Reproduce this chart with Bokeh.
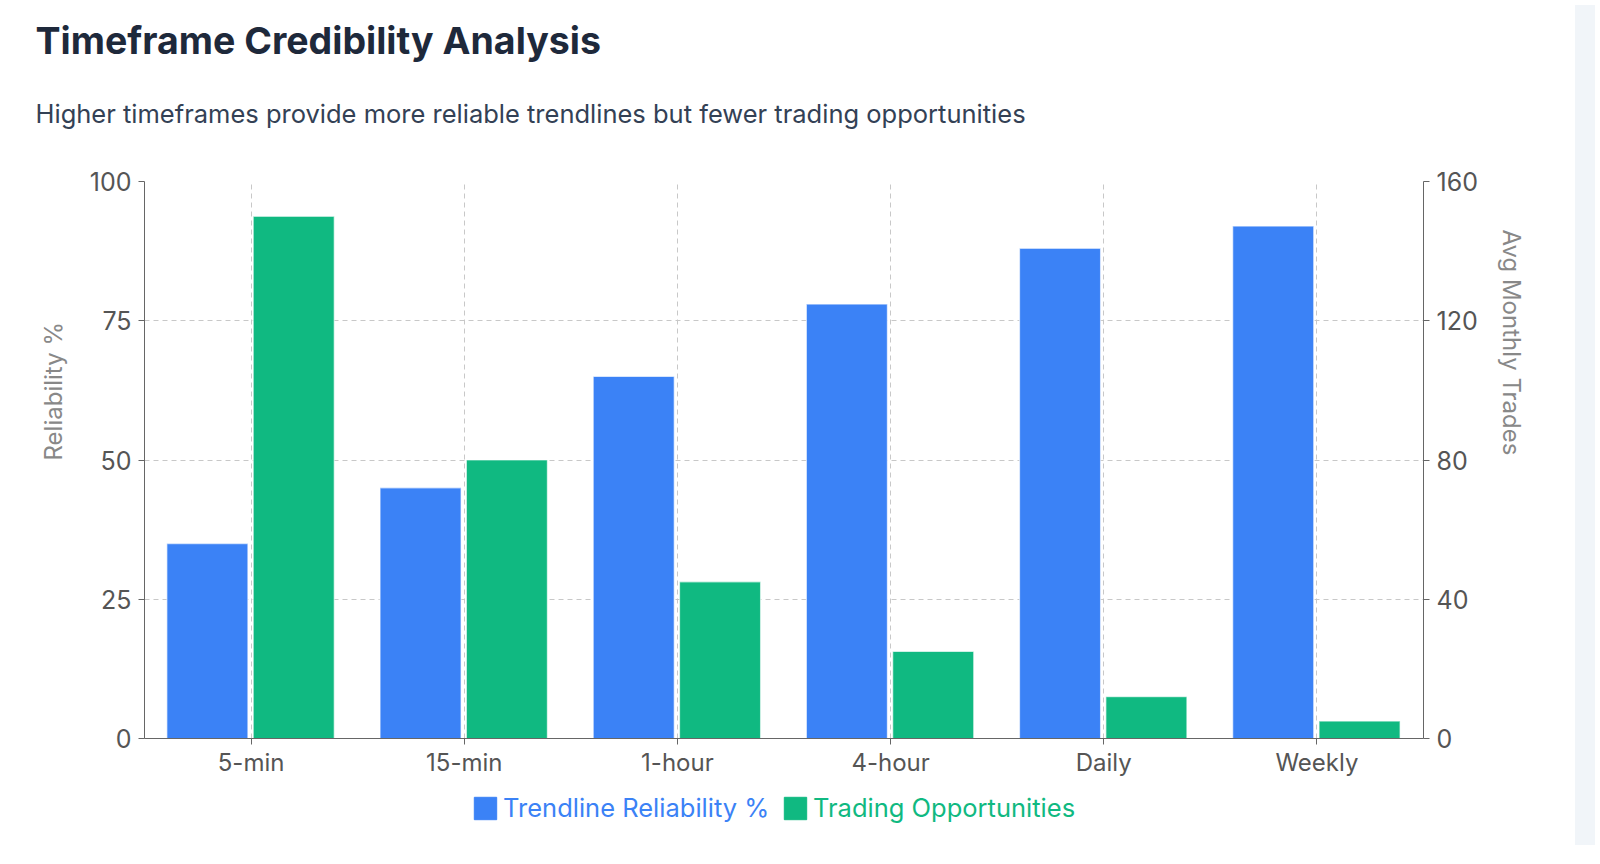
from bokeh.plotting import figure
from bokeh.models import (ColumnDataSource, Range1d, LinearAxis, FixedTicker, Title,
                          Legend, LegendItem, Div, FactorRange)
from bokeh.transform import dodge
from bokeh.layouts import row, column
from bokeh.embed import file_html
from bokeh.resources import INLINE

# ---- data ----
timeframes = ["5-min", "15-min", "1-hour", "4-hour", "Daily", "Weekly"]
reliability = [35, 45, 65, 78, 88, 92]
trades = [150, 80, 45, 25, 12, 5]
left_ticks = [0, 25, 50, 75, 100]
right_ticks = [0, 40, 80, 120, 160]
series_names = ["Trendline Reliability %", "Trading Opportunities"]

BLUE = "#3b82f6"
GREEN = "#10b981"
FONT = "Inter"
W = 1570

source = ColumnDataSource(data=dict(tf=timeframes, rel=reliability, trd=trades))
xr = FactorRange(*timeframes)

p = figure(x_range=xr, y_range=Range1d(0, 100),
           width=W, height=788, output_backend="svg", toolbar_location=None,
           min_border_left=144, min_border_right=147, min_border_top=181,
           min_border_bottom=50)
p.extra_y_ranges = {"trades": Range1d(0, 160)}
p.outline_line_color = None
p.background_fill_color = "white"
p.border_fill_color = "white"

bar_style = dict(line_color="white", line_alpha=0.6, line_width=1.2)
r1 = p.vbar(x=dodge("tf", -0.205, range=xr), top="rel", width=0.38,
            source=source, fill_color=BLUE, **bar_style)
r2 = p.vbar(x=dodge("tf", 0.2, range=xr), top="trd", width=0.38,
            source=source, fill_color=GREEN, y_range_name="trades", **bar_style)

def style_axis(ax, size="24px"):
    ax.axis_line_color = "#666666"
    ax.major_tick_line_color = "#666666"
    ax.minor_tick_line_color = None
    ax.major_tick_out = 6
    ax.major_tick_in = 0
    ax.major_label_text_font = FONT
    ax.major_label_text_font_size = size
    ax.major_label_text_color = "#555555"

p.yaxis.ticker = FixedTicker(ticks=left_ticks)
style_axis(p.yaxis[0], "25px")
p.yaxis.major_label_standoff = 7

ax2 = LinearAxis(y_range_name="trades", ticker=FixedTicker(ticks=right_ticks))
style_axis(ax2, "25px")
ax2.major_label_standoff = 7
p.add_layout(ax2, "right")

style_axis(p.xaxis[0])
p.xaxis.major_label_standoff = 3

p.xgrid.grid_line_color = "#c8c8c8"
p.xgrid.grid_line_dash = "5 4"
p.ygrid.ticker = FixedTicker(ticks=left_ticks)
p.ygrid.grid_line_color = "#c8c8c8"
p.ygrid.grid_line_dash = "5 4"

# axis titles as side titles (placed along the axis like the reference)
ltitle = Title(text="Reliability %", text_font=FONT, text_font_size="24px",
               text_font_style="normal", text_color="#888888",
               align="left", offset=278, standoff=37)
p.add_layout(ltitle, "left")
rtitle = Title(text="Avg Monthly Trades", text_font=FONT, text_font_size="24px",
               text_font_style="normal", text_color="#888888",
               align="left", offset=48, standoff=33)
p.add_layout(rtitle, "right")

# chart title and subtitle
sub = Title(text="Higher timeframes provide more reliable trendlines but fewer trading opportunities",
            text_font=FONT, text_font_size="25.5px", text_font_style="normal",
            text_color="#334155", align="left", offset=-109, standoff=106)
p.add_layout(sub, "above")
try:
    main = Title(text="Timeframe Credibility Analysis", text_font=FONT,
                 text_font_size="37.5px", text_font_style="bold", text_color="#1e293b",
                 align="left", offset=-109, standoff=-41)
except Exception:
    main = Title(text="Timeframe Credibility Analysis", text_font=FONT,
                 text_font_size="37.5px", text_font_style="bold", text_color="#1e293b",
                 align="left", offset=-109, standoff=0)
p.add_layout(main, "above")

# legend strip below the chart (two legends so each label keeps its series colour);
# its bars use the same data but lie outside this strip's visible y range
lf = figure(width=W, height=50, x_range=xr, y_range=Range1d(1000, 1001),
            output_backend="svg", toolbar_location=None,
            x_axis_type=None, y_axis_type=None, min_border=0)
lf.outline_line_color = None
lf.grid.visible = False
d1 = lf.vbar(x=dodge("tf", -0.205, range=xr), top="rel", width=0.38,
             source=source, fill_color=BLUE, line_color=BLUE)
d2 = lf.vbar(x=dodge("tf", 0.2, range=xr), top="trd", width=0.38,
             source=source, fill_color=GREEN, line_color=GREEN)

def make_legend(label, rend, color, x):
    lg = Legend(items=[LegendItem(label=label, renderers=[rend])], location=(x, 15),
                orientation="horizontal", glyph_width=28, glyph_height=28,
                label_standoff=4, padding=0, margin=0, spacing=0,
                border_line_color=None, background_fill_alpha=0,
                label_text_font=FONT, label_text_font_size="25.5px",
                label_text_color=color)
    lf.add_layout(lg, "center")

make_legend(series_names[0], d1, BLUE, 327)
make_legend(series_names[1], d2, GREEN, 637)

band = Div(text="", width=20, height=840,
           styles={"background-color": "#f1f5f9", "height": "840px"})

layout = row(column(p, lf, spacing=0), band, spacing=0)
open("out.html", "w").write(file_html(layout, INLINE))
